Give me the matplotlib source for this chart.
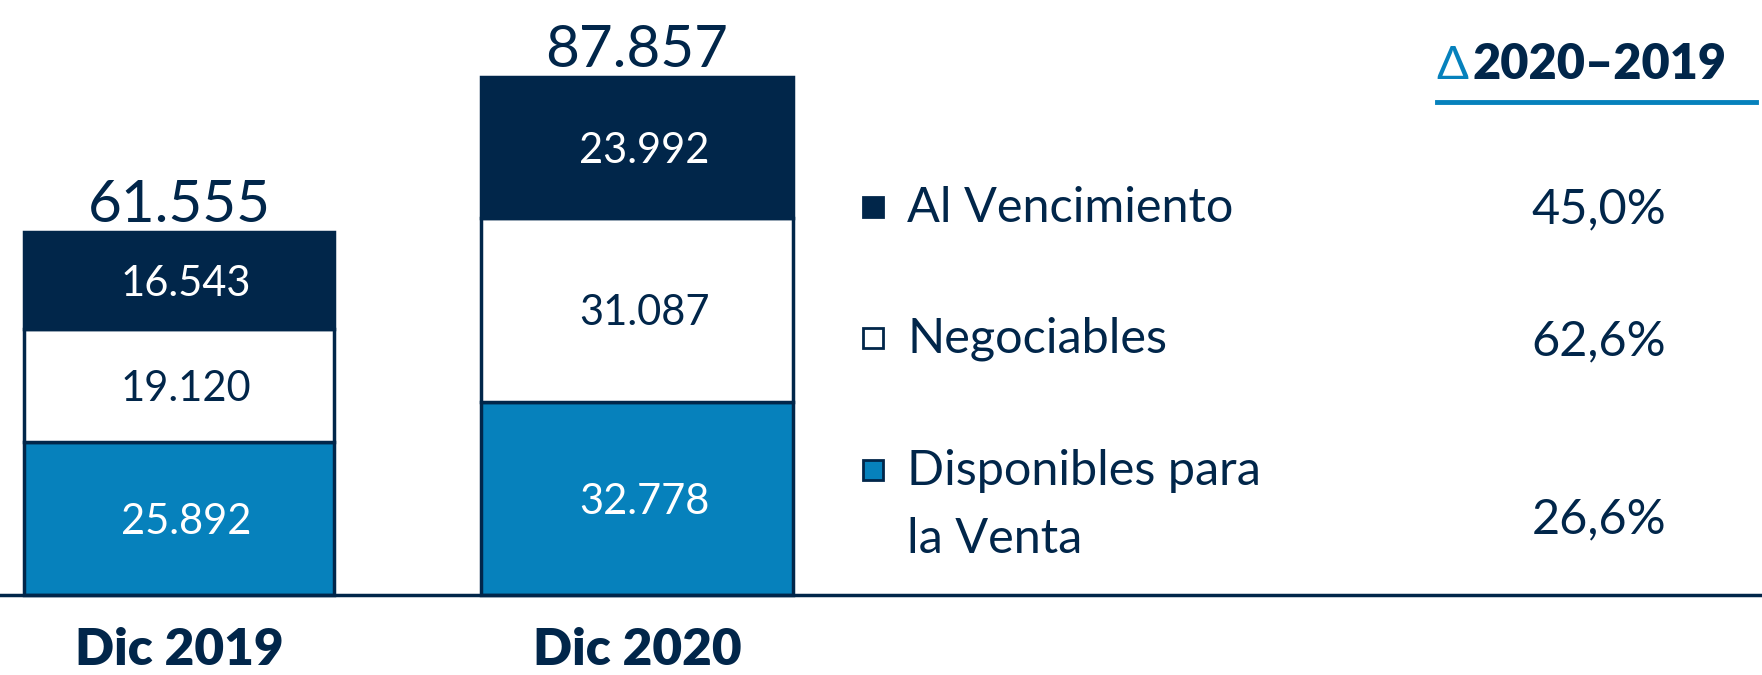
import matplotlib.pyplot as plt

# datos del gráfico
periodos = ["Dic 2019", "Dic 2020"]
categorias = ["Disponibles para\nla Venta", "Negociables", "Al Vencimiento"]
disponibles = [25892, 32778]
negociables = [19120, 31087]
vencimiento = [16543, 23992]
totales = [61555, 87857]
variacion = ["26,6%", "62,6%", "45,0%"]

NAVY = "#01264a"
BLUE = "#0681bc"
W, H = 1762, 675

plt.rcParams['font.family'] = ['Lato', 'DejaVu Sans']


def fmt(v):
    return "{:,}".format(v).replace(",", ".")


def fx(x):
    return x / W


def fy(y):
    return 1 - y / H


fig = plt.figure(figsize=(W / 100, H / 100), dpi=100)
ax = fig.add_axes([0, 0, 1, 1])
escala = 0.0059  # px por unidad
ax.set_xlim(0, W)
ax.set_ylim(-80 / escala, 595 / escala)
ax.axis('off')

xs = [179, 637]
anchos = [310, 312]
colores = [BLUE, "white", NAVY]
series = [disponibles, negociables, vencimiento]
color_txt = ["white", NAVY, "white"]

for i, x in enumerate(xs):
    base = 0
    for serie, col, ct in zip(series, colores, color_txt):
        v = serie[i]
        ax.bar(x, v, width=anchos[i], bottom=base, color=col,
               edgecolor=NAVY, linewidth=2.5, zorder=2)
        ax.text(x - 58, base + v / 2, fmt(v), color=ct, fontsize=30,
                ha='left', va='center_baseline', zorder=3)
        base += v
    ax.text(x, totales[i] + 10 / escala, fmt(totales[i]), color=NAVY,
            fontsize=42, ha='center', va='baseline')
    ax.text(x, -70 / escala, periodos[i], color=NAVY, fontsize=37,
            fontweight='heavy', ha='center', va='baseline')

ax.axhline(0, color=NAVY, linewidth=2.5, zorder=4)

# leyenda manual con variación
ys_leg = [470, 338, 207]
ys_pct = [515, 337, 205]
for cat, col, yl, yp, pct in zip(categorias, colores, ys_leg, ys_pct, variacion):
    fig.patches.append(plt.Rectangle((fx(863), fy(yl + 10)), 20 / W, 20 / H,
                                     transform=fig.transFigure,
                                     facecolor=col, edgecolor=NAVY,
                                     linewidth=2))
    for k, linea in enumerate(cat.split("\n")):
        fig.text(fx(907), fy(yl - 3 + 68 * k), linea, color=NAVY,
                 fontsize=35, ha='left', va='center_baseline')
    fig.text(fx(1666), fy(yp), pct, color=NAVY, fontsize=35,
             ha='right', va='center_baseline')

fig.text(fx(1436), fy(79), "Δ", color=BLUE, fontsize=34, ha='left',
         va='baseline')
fig.text(fx(1472), fy(79), "2020–2019", color=NAVY, fontsize=35,
         fontweight='heavy', ha='left', va='baseline')
fig.add_artist(plt.Line2D([fx(1437), fx(1756)], [fy(102), fy(102)],
                          color=BLUE, linewidth=3.5))

fig.savefig("out.png", dpi=100)
